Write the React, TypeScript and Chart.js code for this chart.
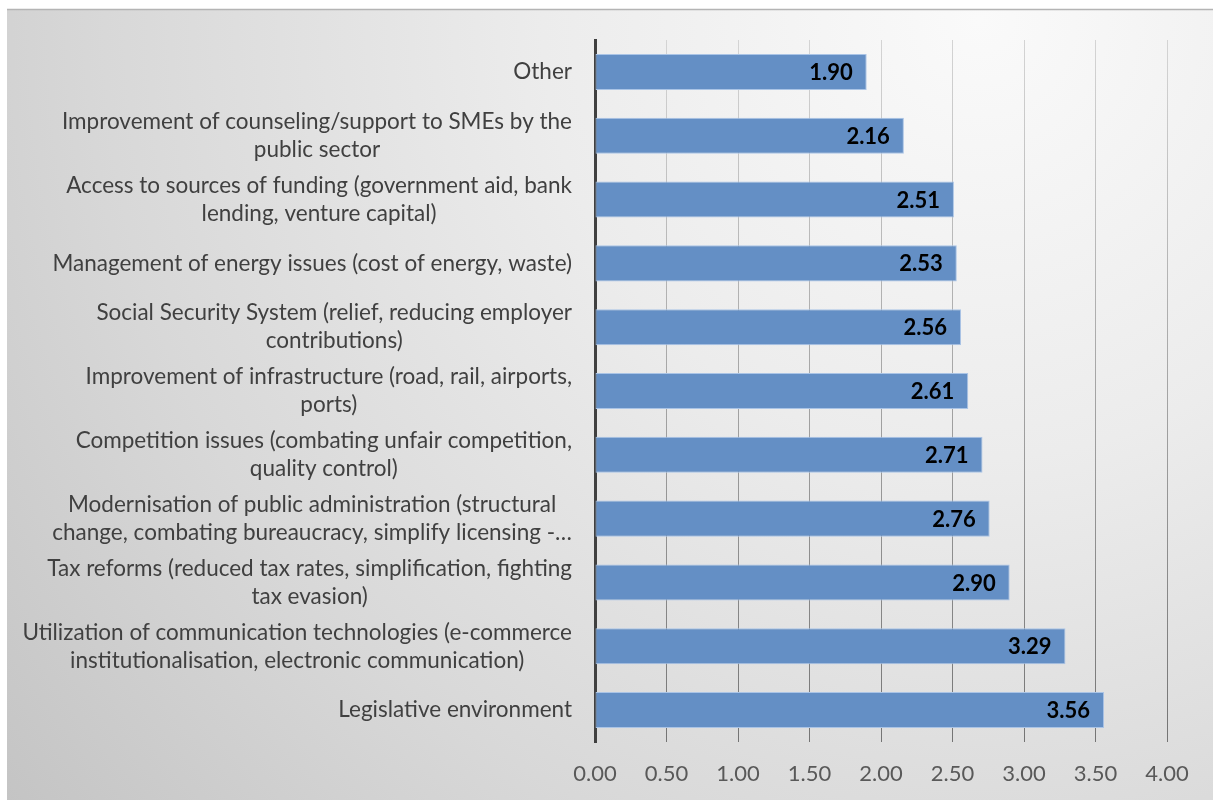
import React, { useEffect, useRef } from "react";
import { Chart, registerables } from "chart.js";

Chart.register(...registerables);

const categories: string[][] = [
  ["Other"],
  ["Improvement of counseling/support to SMEs by the", "public sector"],
  ["Access to sources of funding (government aid, bank", "lending, venture capital)"],
  ["Management of energy issues (cost of energy, waste)"],
  ["Social Security System (relief, reducing employer", "contributions)"],
  ["Improvement of infrastructure (road, rail, airports,", "ports)"],
  ["Competition issues (combating unfair competition,", "quality control)"],
  ["Modernisation of public administration (structural", "change, combating bureaucracy, simplify licensing -\u2026"],
  ["Tax reforms (reduced tax rates, simplification, fighting", "tax evasion)"],
  ["Utilization of communication technologies (e-commerce", "institutionalisation, electronic communication)"],
  ["Legislative environment"],
];

const values: number[] = [1.9, 2.16, 2.51, 2.53, 2.56, 2.61, 2.71, 2.76, 2.9, 3.29, 3.56];

const axisMin = 0;
const axisMax = 4;
const axisStep = 0.5;

const FONT = "Lato, 'Open Sans', sans-serif";

export default function App() {
  const ref = useRef<HTMLCanvasElement>(null);

  useEffect(() => {
    document.body.style.margin = "0";
    const canvas = ref.current;
    if (!canvas) return;

    const bgPlugin = {
      id: "bgPlugin",
      beforeDraw(chart: any) {
        const { ctx, width, height } = chart;
        ctx.save();
        ctx.fillStyle = "#ffffff";
        ctx.fillRect(0, 0, width, height);
        const g = ctx.createRadialGradient(980, 20, 0, 980, 20, 1250);
        g.addColorStop(0, "#fafafa");
        g.addColorStop(0.35, "#ececec");
        g.addColorStop(0.7, "#d8d8d8");
        g.addColorStop(1, "#c4c4c4");
        ctx.fillStyle = g;
        ctx.fillRect(7, 10, width - 7, height - 10);
        ctx.strokeStyle = "#b4b4b4";
        ctx.lineWidth = 1.5;
        ctx.beginPath();
        ctx.moveTo(7, 9.5);
        ctx.lineTo(width, 9.5);
        ctx.stroke();
        ctx.restore();
      },
    };

    const labelPlugin = {
      id: "labelPlugin",
      afterDatasetsDraw(chart: any) {
        const { ctx } = chart;
        const yScale = chart.scales.y;
        const area = chart.chartArea;
        ctx.save();
        // category labels
        ctx.font = `22.5px ${FONT}`;
        ctx.fillStyle = "#404040";
        ctx.textBaseline = "middle";
        ctx.textAlign = "center";
        const lh = 28;
        categories.forEach((lines, i) => {
          const y = yScale.getPixelForTick(i);
          const w = Math.max(...lines.map((l) => ctx.measureText(l).width));
          const right = area.left - 23;
          const cx = right - w / 2;
          lines.forEach((l, j) => {
            ctx.fillText(l, cx, y + (j - (lines.length - 1) / 2) * lh);
          });
        });
        // data labels
        ctx.font = `bold 22px ${FONT}`;
        ctx.fillStyle = "#000000";
        ctx.textAlign = "right";
        const meta = chart.getDatasetMeta(0);
        meta.data.forEach((bar: any, i: number) => {
          ctx.fillText(values[i].toFixed(2), bar.x - 14, bar.y + 1);
        });
        ctx.restore();
      },
    };

    const chart = new Chart(canvas, {
      type: "bar",
      data: {
        labels: categories.map((c) => c.join(" ")),
        datasets: [
          {
            data: values,
            backgroundColor: "#648fc5",
            borderColor: "#aac4e6",
            borderWidth: 1,
            borderSkipped: false,
            categoryPercentage: 1,
            barPercentage: 0.565,
          },
        ],
      },
      options: {
        indexAxis: "y",
        responsive: false,
        animation: false,
        layout: { padding: { top: 40, right: 46, bottom: 0, left: 0 } },
        plugins: {
          legend: { display: false },
          tooltip: { enabled: false },
          title: { display: false },
        },
        scales: {
          x: {
            type: "linear",
            min: axisMin,
            max: axisMax,
            ticks: {
              stepSize: axisStep,
              callback: (v: any) => Number(v).toFixed(2),
              font: { family: FONT, size: 22 },
              color: "#595959",
              padding: 19,
            },
            grid: {
              drawTicks: false,
              lineWidth: 1,
              color: (c: any) => {
                const ch = c.chart;
                const a = ch.chartArea;
                if (!a) return "#a0a0a0";
                const g = ch.ctx.createLinearGradient(0, a.top, 0, a.bottom);
                g.addColorStop(0, "#d4d4d4");
                g.addColorStop(1, "#747474");
                return g;
              },
            },
            border: { display: false },
            afterFit: (s: any) => {
              s.height = 58;
            },
          },
          y: {
            type: "category",
            ticks: { display: false },
            grid: { display: false },
            border: { display: true, color: "#404040", width: 3 },
            afterFit: (s: any) => {
              s.width = 595;
            },
          },
        },
      } as any,
      plugins: [bgPlugin, labelPlugin],
    });

    return () => {
      chart.destroy();
    };
  }, []);

  return (
    <div style={{ width: 1213, height: 800 }}>
      <canvas ref={ref} width={1213} height={800} style={{ display: "block" }} />
    </div>
  );
}
